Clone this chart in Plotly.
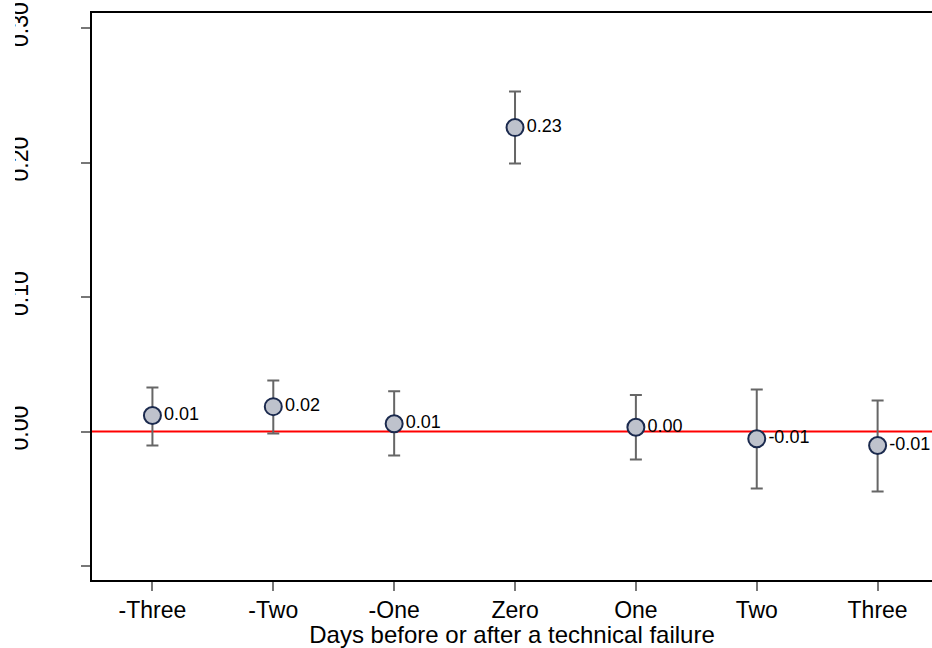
import plotly.graph_objects as go

categories = ["-Three", "-Two", "-One", "Zero", "One", "Two", "Three"]
estimates = [0.0119, 0.0185, 0.0058, 0.226, 0.0032, -0.0054, -0.0104]
ci_upper = [0.0327, 0.0379, 0.0300, 0.2528, 0.0272, 0.0312, 0.0230]
ci_lower = [-0.0104, -0.0015, -0.0178, 0.1993, -0.0208, -0.0424, -0.0446]
point_labels = ["0.01", "0.02", "0.01", "0.23", "0.00", "-0.01", "-0.01"]
y_tick_vals = [-0.10, 0.0, 0.10, 0.20, 0.30]
y_tick_text = ["", "0.00", "0.10", "0.20", "0.30"]

x_idx = list(range(len(categories)))
err_plus = [u - e for u, e in zip(ci_upper, estimates)]
err_minus = [e - l for e, l in zip(estimates, ci_lower)]

FONT = "Liberation Sans, Arial, sans-serif"
W, H, L, T, B = 932, 648, 92, 13, 68
PW = W - L

fig = go.Figure()
fig.add_trace(go.Scatter(
    x=x_idx, y=estimates, mode="markers+text",
    text=point_labels, textposition="middle right",
    textfont=dict(family=FONT, size=18, color="black"),
    error_y=dict(type="data", symmetric=False, array=err_plus, arrayminus=err_minus,
                 color="#666666", thickness=2, width=6),
    marker=dict(size=17, color="#BEC2CC", line=dict(color="#1B2A4E", width=2)),
    showlegend=False, cliponaxis=False,
))

fig.update_layout(
    width=W, height=H,
    margin=dict(l=L, r=0, t=T, b=B),
    paper_bgcolor="white", plot_bgcolor="white",
    font=dict(family=FONT, color="black"),
    shapes=[
        dict(type="line", xref="paper", x0=0, x1=1, yref="y", y0=0, y1=0,
             line=dict(color="#FF0000", width=2), layer="below"),
        # white strip reproducing the clipped left edge of the rotated y labels
        dict(type="rect", xref="paper", x0=-L / PW, x1=(15 - L) / PW,
             yref="paper", y0=-T / (H - T - B), y1=1 + T / (H - T - B),
             fillcolor="white", line=dict(width=0), layer="above"),
    ],
)
fig.update_xaxes(
    range=[-0.5, 6.45], tickmode="array", tickvals=x_idx, ticktext=categories,
    showgrid=False, zeroline=False, showline=True, linecolor="black", linewidth=1.5,
    mirror=True, ticks="outside", ticklen=9, tickcolor="#777777", tickwidth=1.5,
    tickfont=dict(size=23, family=FONT), automargin=False,
    title=dict(text="Days before or after a technical failure", font=dict(size=24, family=FONT), standoff=0),
)
fig.update_yaxes(
    range=[-0.1104, 0.3112], tickmode="array", tickvals=y_tick_vals, ticktext=y_tick_text,
    showgrid=False, zeroline=False, showline=True, linecolor="black", linewidth=1.5,
    ticks="outside", ticklen=9, tickcolor="#777777", tickwidth=1.5,
    tickangle=-90, tickfont=dict(size=23, family=FONT), ticklabelstandoff=44,
    automargin=False,
)

fig.write_html("out.html")
